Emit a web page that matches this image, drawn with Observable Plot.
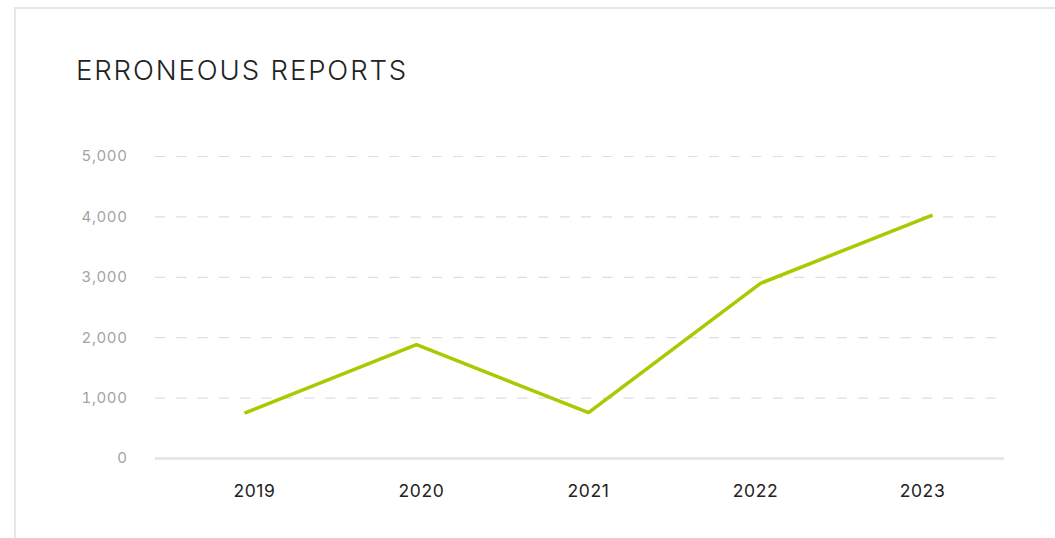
<!DOCTYPE html>
<html>
<head>
<meta charset="utf-8">
<script src="https://cdn.jsdelivr.net/npm/d3@7"></script>
<script src="https://cdn.jsdelivr.net/npm/@observablehq/plot@0.6"></script>
<style>
  html, body { margin: 0; padding: 0; background: #fff; overflow: hidden; width: 1055px; height: 538px; }
  #card { position: absolute; left: 14px; top: 7px; width: 1200px; height: 700px; border: 2px solid #e6e7e9; box-sizing: border-box; background: #fff; }
  #title { position: absolute; left: 76px; top: 51px; margin: 0; font-family: Inter, "Open Sans", sans-serif; font-weight: 300; font-size: 27.5px; letter-spacing: 1.9px; color: #222; line-height: 38px; white-space: nowrap; }
  #chart { position: absolute; left: 0; top: 120px; width: 1055px; height: 418px; }
  #chart svg { position: absolute; left: 0; top: 0; }
  #chart svg text { letter-spacing: 0.6px; }
</style>
</head>
<body>
<div id="card"></div>
<h1 id="title">ERRONEOUS REPORTS</h1>
<div id="chart"></div>
<script>
const years = ["2019", "2020", "2021", "2022", "2023"];
const reports = [750, 1885, 760, 2900, 4030];
const yTicks = [0, 1000, 2000, 3000, 4000, 5000];

const data = years.map((y, i) => ({year: y, value: reports[i]}));

const common = {
  width: 1055,
  height: 418,
  marginTop: 36,
  marginBottom: 80,
  marginLeft: 155,
  marginRight: 58,
  style: { fontFamily: "Inter, 'Open Sans', sans-serif", background: "transparent", overflow: "visible" }
};

const chart = Plot.plot({
  ...common,
  x: { type: "point", domain: years, range: [243, 932], padding: 0, axis: null, label: null },
  y: { domain: [0, 5000], label: null },
  marks: [
    Plot.ruleY(yTicks.filter(d => d > 0), { stroke: "#dedede", strokeWidth: 1.2, strokeDasharray: "10,11.3" }),
    Plot.ruleY([0], { stroke: "#e3e3e3", strokeWidth: 2.5, insetRight: -7 }),
    Plot.axisY({ ticks: yTicks, tickFormat: d3.format(","), tickSize: 0, tickPadding: 28, fontSize: 15, fill: "#a3a3a3", label: null }),
    Plot.line(data, { x: "year", y: "value", stroke: "#a9c900", strokeWidth: 3.5, strokeLinejoin: "miter", strokeLinecap: "butt" })
  ]
});

// category labels sit on their own evenly spaced band centres
const xLabels = Plot.plot({
  ...common,
  x: { type: "point", domain: years, range: [254, 922], padding: 0, label: null },
  marks: [
    Plot.axisX({ tickSize: 0, tickPadding: 26, fontSize: 17.5, fill: "#222", label: null })
  ]
});

const host = document.getElementById("chart");
host.appendChild(chart);
host.appendChild(xLabels);
</script>
</body>
</html>
